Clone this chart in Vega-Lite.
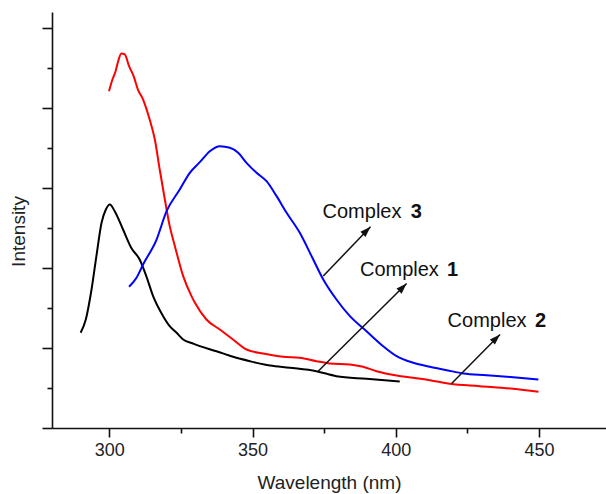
{
  "$schema": "https://vega.github.io/schema/vega-lite/v6.json",
  "width": 554,
  "height": 416,
  "autosize": "none",
  "padding": {"left": 52, "top": 12, "right": 0, "bottom": 66},
  "background": "white",
  "config": {
    "view": {"stroke": null},
    "font": "Liberation Sans",
    "axis": {"grid": false, "domainColor": "#111", "domainWidth": 1.6, "tickColor": "#111", "tickWidth": 1.6, "labelColor": "#222", "titleColor": "#222", "labelFont": "Liberation Sans", "titleFont": "Liberation Sans", "titleFontWeight": "normal"}
  },
  "datasets": {
    "curves": [
      {"wl": 290.0, "v": 1.19, "s": "Complex 1"},
      {"wl": 291.8, "v": 1.356, "s": "Complex 1"},
      {"wl": 293.8, "v": 1.731, "s": "Complex 1"},
      {"wl": 295.5, "v": 2.148, "s": "Complex 1"},
      {"wl": 297.3, "v": 2.565, "s": "Complex 1"},
      {"wl": 298.8, "v": 2.731, "s": "Complex 1"},
      {"wl": 300.2, "v": 2.794, "s": "Complex 1"},
      {"wl": 301.9, "v": 2.71, "s": "Complex 1"},
      {"wl": 304.8, "v": 2.481, "s": "Complex 1"},
      {"wl": 307.7, "v": 2.25, "s": "Complex 1"},
      {"wl": 310.6, "v": 2.106, "s": "Complex 1"},
      {"wl": 313.0, "v": 1.89, "s": "Complex 1"},
      {"wl": 315.3, "v": 1.648, "s": "Complex 1"},
      {"wl": 318.8, "v": 1.398, "s": "Complex 1"},
      {"wl": 321.1, "v": 1.273, "s": "Complex 1"},
      {"wl": 323.5, "v": 1.19, "s": "Complex 1"},
      {"wl": 325.8, "v": 1.106, "s": "Complex 1"},
      {"wl": 329.2, "v": 1.056, "s": "Complex 1"},
      {"wl": 331.6, "v": 1.023, "s": "Complex 1"},
      {"wl": 337.4, "v": 0.96, "s": "Complex 1"},
      {"wl": 343.2, "v": 0.89, "s": "Complex 1"},
      {"wl": 349.1, "v": 0.835, "s": "Complex 1"},
      {"wl": 356.1, "v": 0.781, "s": "Complex 1"},
      {"wl": 363.0, "v": 0.753, "s": "Complex 1"},
      {"wl": 372.3, "v": 0.71, "s": "Complex 1"},
      {"wl": 379.3, "v": 0.648, "s": "Complex 1"},
      {"wl": 389.8, "v": 0.615, "s": "Complex 1"},
      {"wl": 401.4, "v": 0.581, "s": "Complex 1"},

      {"wl": 299.9, "v": 4.21, "s": "Complex 2"},
      {"wl": 301.1, "v": 4.356, "s": "Complex 2"},
      {"wl": 302.2, "v": 4.46, "s": "Complex 2"},
      {"wl": 303.1, "v": 4.585, "s": "Complex 2"},
      {"wl": 304.2, "v": 4.681, "s": "Complex 2"},
      {"wl": 305.4, "v": 4.669, "s": "Complex 2"},
      {"wl": 306.9, "v": 4.523, "s": "Complex 2"},
      {"wl": 308.5, "v": 4.398, "s": "Complex 2"},
      {"wl": 310.0, "v": 4.231, "s": "Complex 2"},
      {"wl": 311.8, "v": 4.106, "s": "Complex 2"},
      {"wl": 314.1, "v": 3.856, "s": "Complex 2"},
      {"wl": 315.9, "v": 3.606, "s": "Complex 2"},
      {"wl": 317.6, "v": 3.231, "s": "Complex 2"},
      {"wl": 319.4, "v": 2.856, "s": "Complex 2"},
      {"wl": 321.1, "v": 2.523, "s": "Complex 2"},
      {"wl": 322.9, "v": 2.273, "s": "Complex 2"},
      {"wl": 325.8, "v": 1.898, "s": "Complex 2"},
      {"wl": 328.7, "v": 1.648, "s": "Complex 2"},
      {"wl": 329.9, "v": 1.565, "s": "Complex 2"},
      {"wl": 333.9, "v": 1.356, "s": "Complex 2"},
      {"wl": 338.6, "v": 1.231, "s": "Complex 2"},
      {"wl": 343.2, "v": 1.106, "s": "Complex 2"},
      {"wl": 347.9, "v": 0.981, "s": "Complex 2"},
      {"wl": 353.7, "v": 0.931, "s": "Complex 2"},
      {"wl": 360.7, "v": 0.89, "s": "Complex 2"},
      {"wl": 366.5, "v": 0.878, "s": "Complex 2"},
      {"wl": 372.3, "v": 0.835, "s": "Complex 2"},
      {"wl": 377.0, "v": 0.806, "s": "Complex 2"},
      {"wl": 384.0, "v": 0.794, "s": "Complex 2"},
      {"wl": 388.6, "v": 0.765, "s": "Complex 2"},
      {"wl": 393.3, "v": 0.71, "s": "Complex 2"},
      {"wl": 400.3, "v": 0.656, "s": "Complex 2"},
      {"wl": 406.1, "v": 0.628, "s": "Complex 2"},
      {"wl": 411.9, "v": 0.598, "s": "Complex 2"},
      {"wl": 418.9, "v": 0.553, "s": "Complex 2"},
      {"wl": 429.4, "v": 0.523, "s": "Complex 2"},
      {"wl": 441.0, "v": 0.49, "s": "Complex 2"},
      {"wl": 449.8, "v": 0.453, "s": "Complex 2"},

      {"wl": 306.9, "v": 1.765, "s": "Complex 3"},
      {"wl": 309.5, "v": 1.878, "s": "Complex 3"},
      {"wl": 311.8, "v": 2.044, "s": "Complex 3"},
      {"wl": 316.5, "v": 2.356, "s": "Complex 3"},
      {"wl": 320.0, "v": 2.71, "s": "Complex 3"},
      {"wl": 324.6, "v": 2.981, "s": "Complex 3"},
      {"wl": 328.1, "v": 3.19, "s": "Complex 3"},
      {"wl": 331.6, "v": 3.323, "s": "Complex 3"},
      {"wl": 335.1, "v": 3.46, "s": "Complex 3"},
      {"wl": 338.6, "v": 3.523, "s": "Complex 3"},
      {"wl": 342.1, "v": 3.503, "s": "Complex 3"},
      {"wl": 345.0, "v": 3.44, "s": "Complex 3"},
      {"wl": 347.9, "v": 3.315, "s": "Complex 3"},
      {"wl": 351.4, "v": 3.19, "s": "Complex 3"},
      {"wl": 354.9, "v": 3.085, "s": "Complex 3"},
      {"wl": 358.4, "v": 2.898, "s": "Complex 3"},
      {"wl": 361.9, "v": 2.69, "s": "Complex 3"},
      {"wl": 366.5, "v": 2.44, "s": "Complex 3"},
      {"wl": 371.2, "v": 2.106, "s": "Complex 3"},
      {"wl": 374.7, "v": 1.856, "s": "Complex 3"},
      {"wl": 379.3, "v": 1.606, "s": "Complex 3"},
      {"wl": 384.0, "v": 1.398, "s": "Complex 3"},
      {"wl": 389.8, "v": 1.21, "s": "Complex 3"},
      {"wl": 395.6, "v": 1.023, "s": "Complex 3"},
      {"wl": 400.3, "v": 0.898, "s": "Complex 3"},
      {"wl": 406.1, "v": 0.815, "s": "Complex 3"},
      {"wl": 411.9, "v": 0.765, "s": "Complex 3"},
      {"wl": 417.8, "v": 0.723, "s": "Complex 3"},
      {"wl": 423.6, "v": 0.681, "s": "Complex 3"},
      {"wl": 431.7, "v": 0.66, "s": "Complex 3"},
      {"wl": 441.0, "v": 0.635, "s": "Complex 3"},
      {"wl": 449.8, "v": 0.606, "s": "Complex 3"}
    ],
    "arrows": [
      {"s": "Complex 1", "x0": 372.9, "y0": 0.71, "x1": 403.8, "y1": 1.806},
      {"s": "Complex 2", "x0": 419.5, "y0": 0.556, "x1": 436.4, "y1": 1.169},
      {"s": "Complex 3", "x0": 374.7, "y0": 1.9, "x1": 391.2, "y1": 2.515}
    ],
    "labels": [
      {"word": "Complex", "num": "1", "xw": 387.5, "xn": 417.9, "v": 1.981},
      {"word": "Complex", "num": "2", "xw": 418.1, "xn": 448.6, "v": 1.334},
      {"word": "Complex", "num": "3", "xw": 374.45, "xn": 405.2, "v": 2.697}
    ]
  },
  "layer": [
    {
      "data": {"name": "curves"},
      "mark": {"type": "line", "strokeWidth": 2, "interpolate": "monotone"},
      "encoding": {
        "x": {
          "field": "wl", "type": "quantitative",
          "scale": {"domain": [280, 473.4], "nice": false, "zero": false},
          "axis": {
            "title": "Wavelength (nm)",
            "values": [300, 325, 350, 375, 400, 425, 450],
            "labelExpr": "datum.value % 50 === 0 ? datum.label : ''",
            "tickSize": {"condition": {"test": "datum.value % 50 === 0", "value": 9}, "value": 5},
            "labelFontSize": 18,
            "labelPadding": 4,
            "titleFontSize": 19,
            "titleBaseline": "middle",
            "titleY": 54
          }
        },
        "y": {
          "field": "v", "type": "quantitative",
          "scale": {"domain": [0, 5.2], "nice": false},
          "axis": {
            "title": "Intensity",
            "values": [0, 0.5, 1, 1.5, 2, 2.5, 3, 3.5, 4, 4.5, 5],
            "labels": false,
            "tickSize": {"condition": {"test": "datum.value % 1 === 0", "value": 10}, "value": 5},
            "titleFontSize": 19,
            "titleAngle": -90,
            "titleAlign": "center",
            "titleBaseline": "middle",
            "titleX": -34,
            "titleY": 219
          }
        },
        "color": {
          "field": "s", "type": "nominal",
          "scale": {"domain": ["Complex 1", "Complex 2", "Complex 3"], "range": ["#000000", "#ff0000", "#0000ff"]},
          "legend": null
        }
      }
    },
    {
      "data": {"name": "arrows"},
      "mark": {"type": "rule", "color": "#111", "strokeWidth": 1.5},
      "encoding": {
        "x": {"field": "x0", "type": "quantitative"},
        "y": {"field": "y0", "type": "quantitative"},
        "x2": {"field": "x1"},
        "y2": {"field": "y1"}
      }
    },
    {
      "data": {"name": "arrows"},
      "mark": {"type": "point", "shape": "M0,0L-0.4,1.2L0.4,1.2Z", "filled": true, "color": "#111", "opacity": 1, "size": 320, "angle": 45},
      "encoding": {
        "x": {"field": "x1", "type": "quantitative"},
        "y": {"field": "y1", "type": "quantitative"}
      }
    },
    {
      "data": {"name": "labels"},
      "mark": {"type": "text", "align": "left", "baseline": "middle", "fontSize": 20, "color": "#111", "font": "Liberation Sans"},
      "encoding": {
        "x": {"field": "xw", "type": "quantitative"},
        "y": {"field": "v", "type": "quantitative"},
        "text": {"field": "word"}
      }
    },
    {
      "data": {"name": "labels"},
      "mark": {"type": "text", "align": "left", "baseline": "middle", "fontSize": 20, "fontWeight": "bold", "color": "#111", "font": "Liberation Sans"},
      "encoding": {
        "x": {"field": "xn", "type": "quantitative"},
        "y": {"field": "v", "type": "quantitative"},
        "text": {"field": "num"}
      }
    }
  ]
}
